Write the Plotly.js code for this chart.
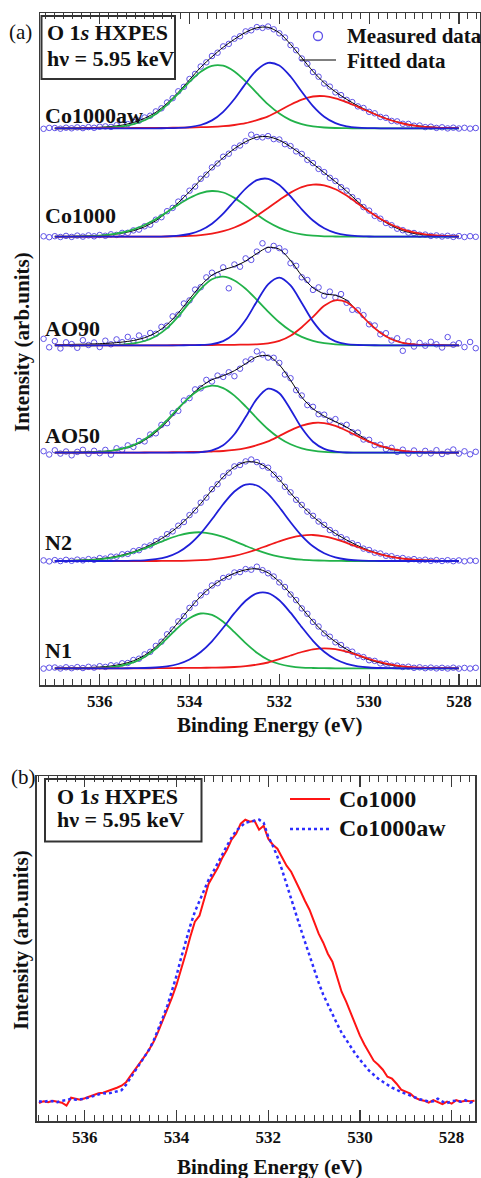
<!DOCTYPE html>
<html>
<head>
<meta charset="utf-8">
<script src="https://cdn.plot.ly/plotly-3.0.1.min.js"></script>
<style>html,body{margin:0;padding:0;background:#fff;}#chart{width:481px;height:1178px;}</style>
</head>
<body>
<div id="chart"></div>
<script>
// ---------------- DATA ----------------
const sampleNames = ['Co1000aw', 'Co1000', 'AO90', 'AO50', 'N2', 'N1'];
const tickValues = [536, 534, 532, 530, 528];
const tickLabels = ['536', '534', '532', '530', '528'];

// Binding energy grid of the fitted curves (eV)
const E_fit = [537.00, 536.75, 536.50, 536.25, 536.00, 535.75, 535.50, 535.25, 535.00, 534.75, 534.50, 534.25, 534.00, 533.75, 533.50, 533.25, 533.00, 532.75, 532.50, 532.25, 532.00, 531.75, 531.50, 531.25, 531.00, 530.75, 530.50, 530.25, 530.00, 529.75, 529.50, 529.25, 529.00, 528.75, 528.50, 528.25, 528.00];
// Binding energy grid of the measured points (eV)
const E_meas = [537.25, 537.125, 537.0, 536.875, 536.75, 536.625, 536.5, 536.375, 536.25, 536.125, 536.0, 535.875, 535.75, 535.625, 535.5, 535.375, 535.25, 535.125, 535.0, 534.875, 534.75, 534.625, 534.5, 534.375, 534.25, 534.125, 534.0, 533.875, 533.75, 533.625, 533.5, 533.375, 533.25, 533.125, 533.0, 532.875, 532.75, 532.625, 532.5, 532.375, 532.25, 532.125, 532.0, 531.875, 531.75, 531.625, 531.5, 531.375, 531.25, 531.125, 531.0, 530.875, 530.75, 530.625, 530.5, 530.375, 530.25, 530.125, 530.0, 529.875, 529.75, 529.625, 529.5, 529.375, 529.25, 529.125, 529.0, 528.875, 528.75, 528.625, 528.5, 528.375, 528.25, 528.125, 528.0, 527.875, 527.75, 527.625];

// Co1000aw
const meas_Co1000aw = [-0.5,0.4,0.3,-0.4,0.6,0.0,0.9,0.2,1.2,0.5, 1.6,1.9,1.4,3.1,3.6,4.2,6.5,7.6,10.8,12.6, 16.9,20.0,25.8,30.1,37.0,41.5,49.3,54.4,61.8,66.0, 72.3,75.6,81.9,84.4,89.6,92.0,96.9,98.0,101.2,100.4, 101.8,99.0,95.0,90.8,83.2,78.1,69.8,64.5,56.3,51.6, 44.8,41.7,35.9,33.2,28.4,26.2,21.9,20.3,16.5,15.0, 11.4,10.5,7.4,6.9,4.5,4.4,2.6,2.8,1.2,1.6, 0.4,1.0,-0.1,0.6,-0.2,0.5,-0.3,0.3];
const fit_Co1000aw = [0,0.1,0.3,0.6,1.0,1.8,3.2,5.8,10,16,25,36,48.5,61,71.5,81,89,96,100.5,101,95.5,84,70.5,57,45.5,36.5,29,22.5,17,12,8,5,3,1.7,0.9,0.4,0.2];
const green_Co1000aw = [0,0,0,0.1,0.3,0.8,1.9,4.1,8.1,14.4,23.5,34.7,46.5,56.6,62.5,62.6,56.9,47.0,35.2,23.9,14.8,8.2,4.2,1.9,0.8,0.3,0.1,0,0,0,0,0,0,0,0,0,0];
const blue_Co1000aw = [0,0,0,0,0,0,0,0,0,0,0.1,0.4,1.2,3.3,7.9,16.5,29.3,44.7,58.3,65.4,62.8,51.8,36.5,22.1,11.5,5.1,1.9,0.6,0.2,0,0,0,0,0,0,0,0];
const red_Co1000aw = [0,0,0,0.1,0.1,0.2,0.2,0.3,0.3,0.4,0.5,0.6,0.8,1.1,1.4,2.1,3.3,5.1,8.2,11.9,17.6,23.6,28.7,31.8,32.1,30.0,26.2,21.5,16.5,11.8,7.8,4.8,2.7,1.4,0.7,0.3,0.1];

// Co1000
const meas_Co1000 = [0.4,-0.5,0.5,-0.3,0.8,-0.2,1.1,0.1,1.3,0.4, 1.7,0.9,2.4,1.8,3.8,3.9,6.3,7.1,10.4,12.0, 17.0,19.5,25.5,28.8,35.1,38.8,46.0,50.2,57.9,62.0, 69.3,73.2,80.0,83.0,88.9,91.2,95.6,102.0,99.7,99.3, 100.6,97.6,97.2,92.5,90.6,85.3,82.8,76.8,73.6,67.8, 64.6,58.9,55.7,49.5,46.1,39.5,35.5,29.6,26.1,20.8, 18.0,13.7,11.5,8.0,6.5,4.1,3.7,2.0,2.1,0.8, 1.3,0.2,0.9,-0.2,0.6,-0.3,0.5,-0.1];
const fit_Co1000 = [0,0.2,0.4,0.7,1.1,2,3.5,6,10,16,24.5,34,45,57,68.5,79,88,95,99.5,100,96.5,90,82,73,64,55,45.5,35,25.5,17.5,11,6,3.2,1.7,0.9,0.4,0.2];
const green_Co1000 = [0,0.1,0.2,0.5,1.1,2.2,4.2,7.3,11.7,17.6,24.6,32.0,38.7,43.6,45.7,44.2,38.8,30.9,22.3,14.7,8.8,4.7,2.3,1.0,0.4,0.2,0,0,0,0,0,0,0,0,0,0,0];
const blue_Co1000 = [0,0,0,0,0,0,0,0,0,0.1,0.3,1.0,2.7,6.4,13.0,23.0,35.7,48.0,56.5,57.9,51.7,40.3,27.4,16.2,8.4,3.8,1.5,0.5,0.2,0,0,0,0,0,0,0,0];
const red_Co1000 = [0,0,0,0,0,0,0,0,0,0,0.2,0.4,0.8,1.6,3.1,5.5,9.2,14.3,21.0,28.7,36.7,44.1,49.6,52.1,51.4,47.5,41.1,33.2,25.2,17.9,11.9,7.4,4.3,2.3,1.2,0.6,0.2];

// AO90
const meas_AO90 = [6.5,-2.0,4.2,-3.1,3.0,1.2,-2.5,5.1,0.3,2.8, -1.7,4.6,1.0,5.9,3.1,8.4,4.4,9.8,7.0,12.3, 11.5,18.4,19.6,28.9,30.7,41.8,44.9,55.7,58.1,67.9, 72.6,70.2,77.9,57.0,80.8,78.6,86.9,85.4,93.7,102.0, 95.6,99.4,97.2,93.8,82.1,79.5,68.0,65.3,55.4,57.9, 49.6,53.7,47.8,51.2,42.5,35.5,35.0,30.2,21.0,19.8, 11.0,12.1,4.8,7.0,-5.5,3.9,-1.2,2.4,-0.4,3.5, 1.0,-2.2,8.2,0.6,2.1,-1.8,3.3,-2.9];
const fit_AO90 = [0.5,0.7,1.0,1.2,1.6,2.2,3.2,4.8,7.6,12.6,20.7,32.3,46.2,59.8,70.1,75.4,78.9,84.2,91.8,97.9,96.1,84.8,69.6,57.5,51.5,50,45,33.4,22.3,12.6,6.1,2.5,0.9,0.3,0.1,0,0];
const green_AO90 = [0,0,0,0,0.1,0.2,0.7,1.8,4.3,9.1,17.2,28.9,42.9,56.5,66.1,68.6,64.8,56.5,45.4,33.7,23.0,14.5,8.4,4.5,2.2,1.0,0.4,0.2,0,0,0,0,0,0,0,0,0];
const blue_AO90 = [0,0,0,0,0,0,0,0,0,0,0,0,0.1,0.3,1.2,4.2,11.6,25.2,43.9,61.0,67.7,59.9,42.4,23.9,10.8,3.9,1.1,0.3,0.1,0,0,0,0,0,0,0,0];
const red_AO90 = [0,0,0,0,0,0,0,0,0,0,0,0.1,0.2,0.2,0.3,0.4,0.5,0.7,1.0,2.0,4.4,9.6,18.1,28.5,39.5,45.0,43.0,34.0,22.1,12.6,6.1,2.5,0.9,0.2,0.1,0,0];

// AO50
const meas_AO50 = [1.5,-1.8,2.4,-0.9,1.2,-2.6,0.8,2.9,-1.1,1.9, -0.5,2.8,-2.0,4.4,2.9,7.3,5.8,11.7,11.3,18.2, 19.4,27.8,29.5,39.6,41.9,52.2,54.6,63.3,64.4,72.8, 71.2,77.1,75.8,80.4,76.5,84.0,91.2,93.4,101.3,98.2, 95.1,94.9,89.8,78.2,74.5,62.5,57.2,47.6,45.9,38.5, 38.0,32.1,33.6,27.0,27.9,20.4,20.1,13.2,12.9,7.5, 8.0,3.6,4.9,0.8,3.0,-0.8,2.2,-1.1,1.8,-0.7, 2.5,-1.3,1.0,3.2,-0.9,1.4,-1.6,0.9];
const fit_AO50 = [0.3,0.4,0.5,0.7,1.0,2.0,3.8,7.0,12.5,20.5,31,43.5,56,66,73,77,82,89,96,97,88,72.5,55.5,44,36.5,31,25.5,18.5,11.5,6.5,3.3,1.6,0.8,0.4,0.2,0.1,0];
const green_AO50 = [0,0,0.1,0.3,0.8,1.9,4.0,7.6,13.5,21.9,32.6,44.4,55.5,63.7,67.0,64.6,57.1,46.3,34.4,23.5,14.7,8.4,4.4,2.1,0.9,0.4,0.1,0,0,0,0,0,0,0,0,0,0];
const blue_AO50 = [0,0,0,0,0,0,0,0,0,0,0,0,0.1,0.6,2.4,7.5,18.4,35.6,53.9,64.0,59.5,43.3,24.6,11.0,3.9,1.1,0.2,0,0,0,0,0,0,0,0,0,0];
const red_AO50 = [0,0,0,0,0,0,0,0.1,0.2,0.3,0.4,0.5,0.7,0.9,1.2,1.7,2.8,4.6,7.5,11.3,16.7,22.3,27.0,29.7,29.6,26.8,22.0,16.4,11.1,6.8,3.8,1.9,0.9,0.4,0.1,0,0];

// N2
const meas_N2 = [0.6,-0.4,0.9,-0.1,1.2,0.2,1.4,0.6,1.9,1.2, 2.9,2.4,4.4,4.3,6.7,7.1,9.9,10.8,14.3,15.6, 19.8,21.9,26.8,29.6,35.3,39.0,45.9,50.5,58.3,63.4, 71.8,76.8,84.7,88.3,94.6,96.0,99.6,101.5,98.9,95.0, 93.3,86.4,82.2,74.2,68.7,61.2,56.1,49.4,45.2,39.5, 36.1,31.0,28.0,23.8,21.6,17.7,15.9,12.4,11.0,8.3, 7.5,5.2,4.8,2.9,3.0,1.5,1.9,0.6,1.3,0.2, 0.9,0.0,0.8,-0.2,0.6,-0.3,0.5,0.1];
const fit_N2 = [0.3,0.5,0.8,1.3,2.2,3.7,6,9.2,13.5,19,26,34.5,45,57.5,71,84,94,99,98.5,92.5,81.5,68,55.5,44.5,35.5,27.5,21,15.3,10.5,7,4.3,2.5,1.4,0.8,0.4,0.2,0.1];
const green_N2 = [0.1,0.2,0.4,0.9,1.7,3.2,5.4,8.5,12.5,17.0,21.6,25.5,28.0,28.7,27.2,24.1,19.8,15.2,10.8,7.1,4.4,2.5,1.3,0.7,0.3,0.1,0,0,0,0,0,0,0,0,0,0,0];
const blue_N2 = [0,0,0,0,0,0,0.1,0.3,0.7,1.8,4.2,8.8,16.5,27.6,41.7,56.8,69.5,76.4,75.5,67.2,53.8,38.8,25.2,14.7,7.7,3.6,1.5,0.6,0.2,0,0,0,0,0,0,0,0];
const red_N2 = [0,0,0,0,0,0,0,0,0,0,0.1,0.2,0.4,0.9,1.7,3.1,5.1,8.0,11.5,15.7,19.7,23.2,25.4,26.0,24.7,21.9,18.2,14.0,10.0,6.7,4.2,2.4,1.3,0.7,0.3,0.1,0];

// N1
const meas_N1 = [-0.3,0.6,0.8,-0.2,1.0,0.1,1.2,0.3,1.5,0.7, 2.1,1.4,3.0,2.8,5.0,5.3,8.3,9.6,13.9,16.5, 22.4,26.6,34.0,38.8,46.9,52.1,60.4,65.0,72.9,76.3, 82.8,85.1,90.3,91.6,95.8,96.2,99.2,98.6,101.6,98.1, 95.0,91.8,85.9,81.3,73.8,68.2,59.9,54.5,46.4,41.8, 34.9,31.6,26.0,23.3,18.5,16.6,12.5,11.2,8.1,7.4, 4.9,4.6,2.6,2.7,1.3,1.6,0.5,1.0,0.1,0.7, -0.1,0.5,-0.2,0.6,-0.3,0.4,-0.2,0.5];
const fit_N1 = [0.2,0.3,0.5,0.8,1.3,2.3,4.2,7.5,13,21.5,33,46,59.5,72,82,89.5,95,98.5,99.5,95.5,86.5,74.5,60.5,47,35.5,26.5,19,13,8.5,5.3,3,1.6,0.8,0.4,0.2,0.1,0];
const green_N1 = [0,0,0,0.1,0.4,1.1,2.8,5.9,11.4,19.5,29.9,41.0,50.1,54.8,53.4,46.5,36.1,25.1,15.6,8.6,4.3,1.9,0.7,0.3,0.1,0,0,0,0,0,0,0,0,0,0,0,0];
const blue_N1 = [0,0,0,0,0,0,0,0.1,0.3,0.8,1.9,4.3,8.8,16.3,27.0,40.5,55.1,67.6,74.9,75.1,68.0,55.6,41.2,27.5,16.6,9.0,4.5,2.0,0.8,0.3,0.1,0,0,0,0,0,0];
const red_N1 = [0,0,0,0,0,0,0,0,0,0.1,0.2,0.3,0.4,0.5,0.6,0.8,1.3,2.2,3.7,5.8,9.1,12.8,16.3,19.0,20.0,19.1,16.6,13.1,9.3,6.1,3.6,1.9,0.9,0.4,0.2,0.1,0];

// Panel (b): normalised spectra
const E_b = [537.0,536.9,536.8,536.7,536.6,536.5,536.4,536.3,536.2,536.1,536.0,535.9,535.8,535.7,535.6,535.5,535.4,535.3,535.2,535.1,535.0,534.9,534.8,534.7,534.6,534.5,534.4,534.3,534.2,534.1,534.0,533.9,533.8,533.7,533.6,533.5,533.4,533.3,533.2,533.1,533.0,532.9,532.8,532.7,532.6,532.5,532.4,532.3,532.2,532.1,532.0,531.9,531.8,531.7,531.6,531.5,531.4,531.3,531.2,531.1,531.0,530.9,530.8,530.7,530.6,530.5,530.4,530.3,530.2,530.1,530.0,529.9,529.8,529.7,529.6,529.5,529.4,529.3,529.2,529.1,529.0,528.9,528.8,528.7,528.6,528.5,528.4,528.3,528.2,528.1,528.0,527.9,527.8,527.7,527.6,527.5];
const b_Co1000 = [-1.5,0.5,-0.5,1.0,0.0,-1.0,-4.0,4.0,3.0,2.0,3.5,5.0,6.5,8.5,9.0,10.5,12.0,14.0,16.0,19.5,26.0,32.0,38.0,45.0,52.0,60.0,70.0,81.0,92.0,104.0,117.0,132.0,148.0,165.0,180.0,186.0,202.0,218.0,226.0,234.0,244.0,252.0,262.0,268.0,278.0,282.0,280.0,281.0,272.0,276.0,263.0,257.0,253.0,244.0,236.0,230.0,221.0,211.0,201.0,192.0,180.0,168.0,159.0,148.0,140.0,124.0,110.0,100.0,89.0,77.0,66.0,57.0,49.0,41.0,37.0,32.0,25.0,23.0,18.0,12.0,10.0,8.0,4.0,2.0,1.0,-1.0,1.5,-0.5,-2.5,0.0,-2.0,1.5,0.0,1.0,0.5,1.0];
const b_Co1000aw = [0.5,-0.5,1.0,0.5,-0.5,1.0,1.5,3.0,2.0,2.5,3.0,4.5,6.0,7.5,8.5,8.0,9.0,10.0,11.5,17.0,24.0,31.0,38.0,45.0,52.0,61.0,72.0,84.0,96.0,110.0,126.0,144.0,161.0,176.0,190.0,201.0,212.0,222.0,230.0,239.0,248.0,256.0,264.0,271.0,275.0,279.0,280.0,281.0,282.0,279.0,265.0,256.0,245.0,232.0,217.0,202.0,188.0,174.0,160.0,146.0,133.0,119.0,107.0,97.0,87.0,78.0,69.0,62.0,54.0,48.0,42.0,36.0,31.0,27.0,23.0,20.0,17.0,14.0,12.0,9.5,8.0,6.0,4.0,2.5,1.5,0.0,0.5,3.0,0.0,-1.5,0.5,1.0,0.0,1.5,-1.0,0.5];

// ---------------- LAYOUT / STYLE ----------------
const W = 481, H = 1178;
const px = x => x / W;
const py = y => 1 - y / H;
const FONT = 'Liberation Serif, Times New Roman, serif';
const FRAME = '#3a3a3a';
const COL_MEAS = '#5f52e8', COL_FIT = '#000000';
const COL_G = '#22b24a', COL_B = '#1f1fd8', COL_R = '#f01a1a';
const STACK_OFFSETS = [556.7, 448.3, 339.7, 232.3, 124.0, 16.7];
const LABEL_RAISE = [12.6, 21.7, 17.0, 17.7, 18.7, 18.3];

const MEAS = [meas_Co1000aw, meas_Co1000, meas_AO90, meas_AO50, meas_N2, meas_N1];
const FIT = [fit_Co1000aw, fit_Co1000, fit_AO90, fit_AO50, fit_N2, fit_N1];
const GREEN = [green_Co1000aw, green_Co1000, green_AO90, green_AO50, green_N2, green_N1];
const BLUE = [blue_Co1000aw, blue_Co1000, blue_AO90, blue_AO50, blue_N2, blue_N1];
const RED = [red_Co1000aw, red_Co1000, red_AO90, red_AO50, red_N2, red_N1];

const traces = [];
sampleNames.forEach((nm, k) => {
  const off = STACK_OFFSETS[k];
  const shift = a => a.map(v => v + off);
  traces.push({x: E_meas, y: shift(MEAS[k]), type: 'scatter', mode: 'markers', name: nm + ' measured',
    marker: {symbol: 'circle-open', size: 5.5, color: COL_MEAS, line: {width: 1}},
    xaxis: 'x', yaxis: 'y', showlegend: false, hoverinfo: 'skip'});
  traces.push({x: E_fit, y: shift(FIT[k]), type: 'scatter', mode: 'lines', name: nm + ' fitted',
    line: {color: COL_FIT, width: 1, shape: 'spline', smoothing: 0.8}, xaxis: 'x', yaxis: 'y', showlegend: false, hoverinfo: 'skip'});
  traces.push({x: E_fit, y: shift(GREEN[k]), type: 'scatter', mode: 'lines', name: nm + ' comp 1',
    line: {color: COL_G, width: 1.8, shape: 'spline', smoothing: 0.8}, xaxis: 'x', yaxis: 'y', showlegend: false, hoverinfo: 'skip'});
  traces.push({x: E_fit, y: shift(RED[k]), type: 'scatter', mode: 'lines', name: nm + ' comp 3',
    line: {color: COL_R, width: 1.8, shape: 'spline', smoothing: 0.8}, xaxis: 'x', yaxis: 'y', showlegend: false, hoverinfo: 'skip'});
  traces.push({x: E_fit, y: shift(BLUE[k]), type: 'scatter', mode: 'lines', name: nm + ' comp 2',
    line: {color: COL_B, width: 1.8, shape: 'spline', smoothing: 0.8}, xaxis: 'x', yaxis: 'y', showlegend: false, hoverinfo: 'skip'});
});
traces.push({x: E_b, y: b_Co1000, type: 'scatter', mode: 'lines', name: 'Co1000',
  line: {color: '#ff1414', width: 2}, xaxis: 'x2', yaxis: 'y2', showlegend: false, hoverinfo: 'skip'});
traces.push({x: E_b, y: b_Co1000aw, type: 'scatter', mode: 'lines', name: 'Co1000aw',
  line: {color: '#2d2dff', width: 2.5, dash: 'dot'}, xaxis: 'x2', yaxis: 'y2', showlegend: false, hoverinfo: 'skip'});

const xAxisBase = {
  autorange: false, showline: true, linecolor: FRAME, linewidth: 1.5, mirror: 'ticks',
  ticks: 'inside', ticklen: 11, tickwidth: 1.2, tickcolor: FRAME,
  tickmode: 'array', tickvals: tickValues, ticktext: tickLabels,
  tickfont: {family: FONT, size: 17, color: '#111', weight: 'bold'},
  minor: {tickmode: 'linear', tick0: 528, dtick: 0.2, ticks: 'inside', ticklen: 6, tickwidth: 1, tickcolor: FRAME},
  showgrid: false, zeroline: false, fixedrange: true
};
const yAxisBase = {
  autorange: false, showline: true, linecolor: FRAME, linewidth: 1.5, mirror: true,
  ticks: '', showticklabels: false, showgrid: false, zeroline: false, fixedrange: true
};

const T = (text, x, y, size, opts) => Object.assign({
  text: text, xref: 'paper', yref: 'paper', x: px(x), y: py(y), showarrow: false,
  xanchor: 'left', yanchor: 'middle', font: {family: FONT, size: size, color: '#111'}
}, opts || {});

const annotations = [
  T('(a)', 7, 32, 21),
  T('(b)', 9, 777, 21),
  T('<b>Intensity (arb.units)</b>', 22, 342, 21, {xanchor: 'center', textangle: -90}),
  T('<b>Intensity (arb.units)</b>', 21, 940, 21, {xanchor: 'center', textangle: -90}),
  T('<b>Binding Energy (eV)</b>', 270, 725, 21, {xanchor: 'center'}),
  T('<b>Binding Energy (eV)</b>', 270, 1167, 21, {xanchor: 'center'}),
  T('<b>O 1<i>s</i> HXPES</b>', 45, 33, 22),
  T('<b>hν = 5.95 keV</b>', 45, 59, 22),
  T('<b>Measured data</b>', 345, 36, 21),
  T('<b>Fitted data</b>', 345, 61, 21),
  T('<b>O 1<i>s</i> HXPES</b>', 55, 796, 22),
  T('<b>hν = 5.95 keV</b>', 55, 819, 22),
  T('<b>Co1000</b>', 337, 799, 24),
  T('<b>Co1000aw</b>', 337, 828, 24)
];
sampleNames.forEach((nm, k) => {
  annotations.push({text: '<b>' + nm + '</b>', xref: 'x', yref: 'y', x: 537.27, y: STACK_OFFSETS[k] + LABEL_RAISE[k],
    showarrow: false, xanchor: 'left', yanchor: 'middle', font: {family: FONT, size: 22, color: '#111'}});
});

const shapes = [
  {type: 'rect', xref: 'paper', yref: 'paper', x0: px(41.5), x1: px(175), y0: py(16), y1: py(79),
    line: {color: '#333', width: 2}, fillcolor: 'rgba(255,255,255,0)'},
  {type: 'circle', xref: 'paper', yref: 'paper', x0: px(313.5), x1: px(322.5), y0: py(31.5), y1: py(40.5),
    line: {color: COL_MEAS, width: 1.3}},
  {type: 'line', xref: 'paper', yref: 'paper', x0: px(300), x1: px(336), y0: py(60), y1: py(60),
    line: {color: '#000', width: 1}},
  {type: 'rect', xref: 'paper', yref: 'paper', x0: px(45), x1: px(201.5), y0: py(779), y1: py(841.5),
    line: {color: '#333', width: 2}, fillcolor: 'rgba(255,255,255,0)'},
  {type: 'line', xref: 'paper', yref: 'paper', x0: px(290), x1: px(330), y0: py(799), y1: py(799),
    line: {color: '#ff1414', width: 2}},
  {type: 'line', xref: 'paper', yref: 'paper', x0: px(290), x1: px(330), y0: py(829), y1: py(829),
    line: {color: '#2d2dff', width: 2.5, dash: 'dot'}}
];

const layout = {
  width: W, height: H, margin: {l: 0, r: 0, t: 0, b: 0},
  paper_bgcolor: '#fff', plot_bgcolor: '#fff', showlegend: false,
  font: {family: FONT, color: '#111'},
  xaxis: Object.assign({}, xAxisBase, {domain: [px(40), px(480)], range: [537.33, 527.53], anchor: 'y'}),
  yaxis: Object.assign({}, yAxisBase, {domain: [py(685), py(13)], range: [0, 672], anchor: 'x'}),
  xaxis2: Object.assign({}, xAxisBase, {domain: [px(36.7), px(475)], range: [537.05, 527.49], anchor: 'y2'}),
  yaxis2: Object.assign({}, yAxisBase, {domain: [py(1121), py(776)], range: [-19.3, 325.7], anchor: 'x2'}),
  annotations: annotations,
  shapes: shapes
};

Plotly.newPlot('chart', traces, layout, {staticPlot: true, displayModeBar: false});
</script>
</body>
</html>
